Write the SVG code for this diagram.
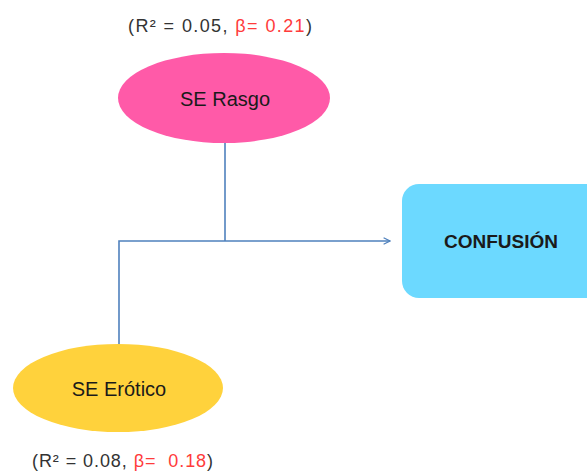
<svg xmlns="http://www.w3.org/2000/svg" width="587" height="471" viewBox="0 0 587 471">
<style>
text{font-family:"Liberation Sans","Open Sans",Arial,sans-serif;fill:#1a1a1a}
.lbl{font-size:18px;fill:#333}
.red{fill:#ff3b3b}
.node{font-size:20px}
.conn{fill:none;stroke:#4f81bd;stroke-width:1.6}
</style>
<defs>
<marker id="arr" viewBox="0 0 10 10" refX="9" refY="5" markerWidth="8" markerHeight="8" markerUnits="userSpaceOnUse" orient="auto">
<path d="M1,1 L9,5 L1,9" fill="none" stroke="#4f81bd" stroke-width="1.5"/>
</marker>
</defs>
<rect width="587" height="471" fill="#fff"/>
<g id="connectors">
<path class="conn" d="M225,143 V241"/>
<path class="conn" d="M119,345 V241 H390" marker-end="url(#arr)"/>
</g>
<g id="se-rasgo">
<ellipse cx="224" cy="98" rx="106" ry="45" fill="#ff5aa8"/>
<text class="node" x="225" y="106" text-anchor="middle">SE Rasgo</text>
<text class="lbl" x="128" y="32" textLength="184">(R² = 0.05, <tspan class="red">β= 0.21</tspan>)</text>
</g>
<g id="confusion">
<rect x="402" y="184" width="200" height="114" rx="17" fill="#6cd9ff"/>
<text x="501" y="248" text-anchor="middle" font-size="19" font-weight="bold">CONFUSIÓN</text>
</g>
<g id="se-erotico">
<ellipse cx="118" cy="388" rx="105" ry="44" fill="#ffd23c"/>
<text class="node" x="119" y="396" text-anchor="middle">SE Erótico</text>
<text class="lbl" x="32" y="467" textLength="181" xml:space="preserve">(R² = 0.08, <tspan class="red">β=  0.18</tspan>)</text>
</g>
</svg>
